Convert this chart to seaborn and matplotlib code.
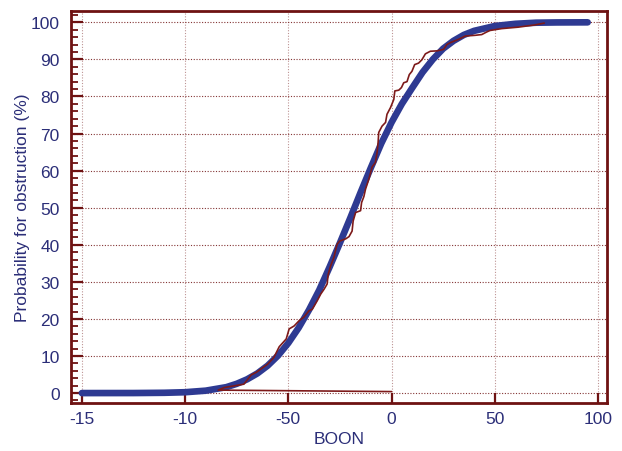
"""
Cumulative probability of obstruction vs BOON: observed curve and fitted curve.
"""

import matplotlib
matplotlib.use('Agg')
import matplotlib.pyplot as plt
from matplotlib.ticker import MultipleLocator
import seaborn as sns
import pandas as pd

# Fitted curve
fit_boon = [-150, -125, -110, -100, -90, -80, -75, -70, -65, -60, -55, -50, -45,
            -40, -35, -30, -25, -20, -15, -10, -5, 0, 5, 10, 15, 20, 25, 30,
            35, 40, 50, 60, 70, 80, 95]
fit_prob = [0.0, 0.01, 0.08, 0.23, 0.65, 1.6, 2.5, 3.7, 5.3, 7.4, 10.1, 13.5, 17.6,
            22.4, 27.8, 34.0, 40.5, 47.2, 54.1, 60.8, 67.3, 73.0, 78.0, 82.3, 86.5, 90.0,
            92.9, 95.0, 96.6, 97.7, 99.0, 99.6, 99.9, 99.97, 100.0]

# Observed curve, in drawing order
obs_boon = [0, -84, -81, -71.5, -68, -65.5, -60, -57, -54.4, -51, -49.6, -47.2,
            -44.8, -42.4, -40, -38.4, -36, -34.3, -32.7, -31.2, -30.7, -29.5, -27.9,
            -27, -26.3, -25.1, -22.2, -20.6, -19.1, -18.6, -17.4, -15, -14.5, -13.4,
            -12.6, -11, -10.2, -9.4, -7.8, -7, -6.5, -6.2, -4.6, -2.9, -2.2, -0.5,
            1.1, 1.6, 3.5, 4.8, 5.9, 7.5, 8.6, 9.9, 11.2, 13.1, 14.7, 16.4, 18.8,
            22, 25.2, 26.8, 28.4, 32.4, 35.7, 40.5, 43.7, 46.1, 47.7, 53.3, 61.4,
            69.4, 74]
obs_prob = [0.4, 0.8, 1.5, 2.4, 4.9, 5.6, 7.8, 9.6, 12.5, 14.6, 17.3, 18.1,
            19.5, 20.5, 22.2, 22.6, 24.9, 26.7, 28.0, 29.4, 32.0, 34.3, 36.6,
            38.8, 40.2, 41.0, 41.6, 42.2, 43.7, 46.4, 48.7, 49.2, 51.4, 53.0,
            55.0, 57.7, 59.3, 61.0, 62.2, 64.9, 67.6, 70.3, 72.0, 73.0, 75.2, 77.0,
            79.2, 81.5, 81.7, 82.4, 83.7, 84.0, 85.9, 86.8, 88.6, 89.0, 89.9, 91.5, 92.2,
            92.3, 92.7, 94.0, 94.5, 95.4, 96.3, 96.5, 96.7, 97.4, 97.8, 98.3, 98.7,
            99.3, 99.8]

x_ticks = [-150, -100, -50, 0, 50, 100]
x_tick_labels = ['-15', '-10', '-50', '0', '50', '100']

maroon = '#6e1212'
red = '#7d1a1a'
blue = '#2e3a92'
navy = '#2b2e78'

sns.set_style('white')
plt.rcParams['font.family'] = ['Liberation Sans', 'DejaVu Sans']

fig = plt.figure(figsize=(6.22, 4.52), dpi=100)
ax = fig.add_axes([0.114, 0.106, 0.862, 0.867])

fit_df = pd.DataFrame({'BOON': fit_boon, 'prob': fit_prob})
obs_df = pd.DataFrame({'BOON': obs_boon, 'prob': obs_prob})

sns.lineplot(data=fit_df, x='BOON', y='prob', color=blue, linewidth=4.8,
             solid_capstyle='round', sort=False, estimator=None, ax=ax, zorder=3)
sns.lineplot(data=obs_df, x='BOON', y='prob', color=red, linewidth=1.2,
             sort=False, estimator=None, ax=ax, zorder=4)

ax.set_xlim(-155.3, 104.4)
ax.set_ylim(-2.7, 103)

ax.set_xticks(x_ticks)
ax.set_xticklabels(x_tick_labels)
ax.yaxis.set_major_locator(MultipleLocator(10))
ax.yaxis.set_minor_locator(MultipleLocator(2))

# horizontal grid a bit stronger than the vertical one, as in the original
ax.yaxis.grid(True, which='major', color=maroon, linestyle=(0, (1, 1.5)), linewidth=0.8, alpha=0.85)
ax.xaxis.grid(True, which='major', color=maroon, linestyle=(0, (1, 1.5)), linewidth=0.8, alpha=0.45)
ax.set_axisbelow(True)

for side in ['left', 'right', 'top', 'bottom']:
    ax.spines[side].set_color(maroon)
    ax.spines[side].set_linewidth(2)
    ax.spines[side].set_visible(True)

ax.tick_params(axis='both', which='major', direction='in', color=maroon,
               width=1.6, labelcolor=navy, labelsize=12.5)
ax.tick_params(axis='y', which='major', length=8.5, pad=8, left=True)
ax.tick_params(axis='y', which='minor', direction='in', color=maroon,
               width=1.3, length=5, left=True)
ax.tick_params(axis='x', which='major', length=7.5, pad=6, bottom=True)

ax.set_xlabel('BOON', fontsize=12.5, color=navy, labelpad=3)
ax.set_ylabel('Probability for obstruction (%)', fontsize=12.5, color=navy, labelpad=0.5)

plt.savefig('out.png', dpi=100)
plt.close()
